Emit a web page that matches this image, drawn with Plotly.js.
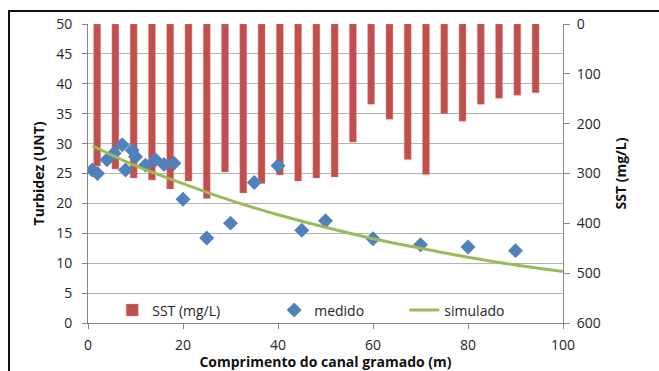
<!DOCTYPE html>
<html>
<head>
<meta charset="utf-8">
<script src="https://cdn.plot.ly/plotly-3.0.1.min.js"></script>
<style>
  html, body { margin: 0; padding: 0; background: #fff; }
  #wrap { position: relative; width: 659px; height: 371px; overflow: hidden; }
  #chart { position: absolute; left: 0; top: 0; width: 659px; height: 371px; }
  #frame { position: absolute; left: 8px; top: 10px; width: 800px; height: 500px;
           border: 2px solid #111; pointer-events: none; }
</style>
</head>
<body>
<div id="wrap">
  <div id="chart"></div>
  <div id="frame"></div>
</div>
<script>
// SST bars (one per sampling slot of a 26-slot category axis; last slot empty)
const sstSlots = ["1","2","3","4","5","6","7","8","9","10","11","12","13",
                  "14","15","16","17","18","19","20","21","22","23","24","25","26"];
const sstValues = [285, 291, 309, 313, 331, 315, 350, 297, 339, 320, 303, 315, 309,
                   307, 237, 161, 191, 272, 302, 180, 195, 161, 149, 143, 138, null];

// Measured turbidity (medido)
const medidoX = [0.9, 2, 4, 5.5, 7.2, 7.9, 9.3, 10, 12.1, 14.2, 16, 18.1,
                 20, 25, 30, 35, 40, 45, 50, 60, 70, 80, 90];
const medidoY = [25.6, 25.0, 27.3, 28.4, 29.8, 25.6, 28.9, 27.8, 26.4, 27.3, 26.5, 26.7,
                 20.7, 14.2, 16.7, 23.5, 26.3, 15.5, 17.1, 14.1, 13.1, 12.7, 12.1];

// Simulated turbidity (simulado)
const simuladoX = [1, 10, 20, 30, 40, 50, 60, 70, 80, 90, 100];
const simuladoY = [29.6, 26.3, 23.3, 20.5, 18.1, 16.0, 14.1, 12.5, 11.0, 9.7, 8.6];

const FONT = "'Open Sans', 'Noto Sans', sans-serif";
const AXIS = "#868686";
const GRID = "#B3B3B3";
const TXT = "#262626";

const traces = [
  {
    type: "bar", name: "SST (mg/L)",
    x: sstSlots, y: sstValues, xaxis: "x", yaxis: "y",
    width: 0.38,
    marker: { color: "#C0504D", line: { color: "rgba(225,140,140,0.7)", width: 0.6 } },
    legend: "legend"
  },
  {
    type: "scatter", mode: "markers", name: "medido",
    x: medidoX, y: medidoY, xaxis: "x2", yaxis: "y2",
    marker: { symbol: "diamond", size: 11.5, color: "#4F81BD" },
    legend: "legend2"
  },
  {
    type: "scatter", mode: "lines", name: "simulado",
    x: simuladoX, y: simuladoY, xaxis: "x2", yaxis: "y2",
    line: { color: "#9BBB59", width: 3, shape: "spline" },
    legend: "legend3"
  }
];

const legendBase = {
  orientation: "h", yanchor: "middle", y: 0.042, xanchor: "left",
  bgcolor: "rgba(255,255,255,0)", borderwidth: 0,
  font: { family: FONT, size: 14, color: TXT }
};

const layout = {
  width: 659, height: 371,
  margin: { l: 88, r: 96, t: 24, b: 48 },
  paper_bgcolor: "rgba(0,0,0,0)", plot_bgcolor: "#fff",
  font: { family: FONT, size: 14, color: TXT },
  showlegend: true,
  bargap: 0,
  // hidden category axis carrying the SST bars
  xaxis: {
    type: "category", categoryorder: "array", categoryarray: sstSlots,
    range: [-0.5, 25.5], anchor: "y", visible: false
  },
  // SST axis (right, reversed)
  yaxis: {
    range: [600, 0], dtick: 100, tick0: 0,
    side: "right", anchor: "x",
    showgrid: false, zeroline: false,
    showline: true, linecolor: AXIS, linewidth: 1,
    ticks: "outside", ticklen: 6, tickcolor: AXIS, ticklabelstandoff: 4,
    tickfont: { family: FONT, size: 14, color: TXT },
    title: { text: "SST (mg/L)", standoff: 16,
             font: { family: FONT, size: 14, color: "#111", weight: "bold" } },
    automargin: false
  },
  // distance axis (bottom)
  xaxis2: {
    range: [0, 100], dtick: 20, tick0: 0,
    overlaying: "x", side: "bottom", anchor: "y2",
    showgrid: false, zeroline: false,
    showline: true, linecolor: AXIS, linewidth: 1,
    ticks: "outside", ticklen: 5, tickcolor: AXIS, ticklabelstandoff: 4,
    tickfont: { family: FONT, size: 14, color: TXT },
    title: { text: "Comprimento do canal gramado (m)", standoff: 11,
             font: { family: FONT, size: 14, color: "#111", weight: "bold" } },
    automargin: false
  },
  // turbidity axis (left)
  yaxis2: {
    range: [0, 50], dtick: 5, tick0: 0,
    overlaying: "y", side: "left", anchor: "x2",
    showgrid: true, gridcolor: GRID, gridwidth: 1, zeroline: false,
    showline: true, linecolor: AXIS, linewidth: 1,
    ticks: "outside", ticklen: 5, tickcolor: AXIS, ticklabelstandoff: 7,
    tickfont: { family: FONT, size: 14, color: TXT },
    title: { text: "Turbidez (UNT)", standoff: 8,
             font: { family: FONT, size: 14, color: "#111", weight: "bold" } },
    automargin: false
  },
  legend: Object.assign({}, legendBase, { x: 0.051 }),
  legend2: Object.assign({}, legendBase, { x: 0.392 }),
  legend3: Object.assign({}, legendBase, { x: 0.666 })
};

Plotly.newPlot("chart", traces, layout, { displayModeBar: false, staticPlot: true });
</script>
</body>
</html>
